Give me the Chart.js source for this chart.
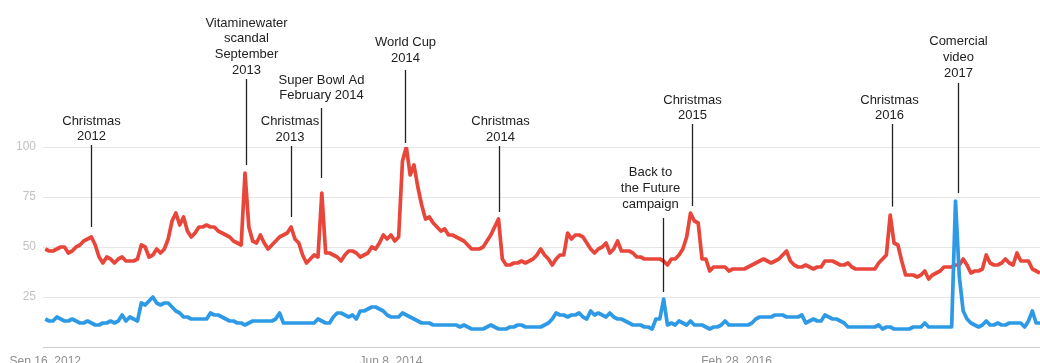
<!DOCTYPE html>
<html>
<head>
<meta charset="utf-8">
<script src="https://cdn.jsdelivr.net/npm/chart.js@4"></script>
<style>
  html, body { margin: 0; padding: 0; background: #fff; }
  #wrap { width: 1040px; height: 363px; position: relative; }
</style>
</head>
<body>
<div id="wrap"><canvas id="trendChart"></canvas></div>
<script>
// weekly search interest (week 0 = Sep 16, 2012)
const redSeries = [
  49,48,48,49,50,50,47,48,50,51,
  53,54,55,51,45,42,45,44,42,44,
  45,43,43,43,44,51,50,45,46,49,
  47,49,54,63,67,61,65,58,55,57,
  60,60,61,60,60,58,57,56,55,53,
  52,51,87,60,53,52,56,52,49,51,
  53,55,56,57,60,54,52,46,42,44,
  46,45,77,47,47,46,45,43,46,48,
  48,47,45,46,47,50,49,52,56,54,
  56,53,55,93,100,86,91,80,71,64,
  65,62,60,58,59,56,56,55,54,53,
  51,49,49,49,50,53,56,60,64,44,
  41,41,42,42,43,42,43,44,46,49,
  46,44,41,44,46,46,57,54,56,56,
  55,52,49,47,49,50,52,47,49,53,
  48,48,48,47,45,45,44,44,44,44,
  44,43,41,44,44,46,49,55,67,63,
  62,44,44,38,40,40,40,40,38,39,
  39,39,39,40,41,42,43,44,43,42,
  43,44,46,48,43,41,40,40,41,40,
  39,40,40,43,43,43,42,41,41,42,
  40,39,39,39,39,39,39,42,44,46,
  66,52,51,43,36,36,36,35,36,38,
  34,36,37,38,40,40,40,41,41,44,
  41,37,38,38,39,46,42,41,41,42,
  44,42,41,47,43,43,43,39,38,37
];
const blueSeries = [
  14,13,13,15,14,13,13,14,13,12,
  12,13,12,11,11,12,12,13,12,13,
  16,13,15,14,13,22,21,23,25,22,
  21,22,22,20,18,17,15,15,14,14,
  14,14,14,17,16,16,15,14,13,13,
  12,12,11,12,13,13,13,13,13,13,
  14,17,12,12,12,12,12,12,12,12,
  12,14,13,12,12,15,17,17,16,15,
  16,14,18,18,19,20,20,19,18,16,
  15,15,15,17,16,15,14,13,12,12,
  12,11,11,11,11,11,11,11,10,11,
  10,9,9,9,9,10,11,10,9,9,
  9,10,10,11,11,10,10,10,10,10,
  11,12,14,17,16,16,15,16,16,17,
  15,14,18,16,17,16,15,17,15,14,
  14,13,12,11,11,11,10,10,9,14,
  14,24,11,12,11,13,12,11,13,11,
  11,11,10,9,10,10,11,13,11,11,
  11,11,11,11,12,14,15,15,15,15,
  16,16,16,15,15,15,15,16,12,13,
  14,13,13,16,15,14,14,13,12,10,
  10,10,10,10,10,10,10,11,9,10,
  10,9,9,9,9,9,10,10,10,12,
  10,10,10,10,10,10,10,73,35,18,
  14,12,11,10,11,13,11,11,12,11,
  11,12,12,12,12,10,13,18,12,12
];

const tickWeeks = [0, 90, 180];
const tickLabels = ['Sep 16, 2012', 'Jun 8, 2014', 'Feb 28, 2016'];

// event notes: week of the leader line, text lines
const noteWeeks = [12, 52.2, 64.1, 71.9, 93.6, 118.1, 160.9, 168.3, 220.5, 237.7];
const noteTexts = [
  ['Christmas', '2012'],
  ['Vitaminewater', 'scandal', 'September', '2013'],
  ['Christmas', '2013'],
  ['Super Bowl Ad', 'February 2014'],
  ['World Cup', '2014'],
  ['Christmas', '2014'],
  ['Back to', 'the Future', 'campaign'],
  ['Christmas', '2015'],
  ['Christmas', '2016'],
  ['Comercial', 'video', '2017']
];
// text top / leader top / leader bottom, in value units of the y axis
const noteTextAt = [113, 162, 112.7, 133.5, 152.2, 112.7, 87.2, 123.5, 123.5, 152.7];
const noteLineTop = [101, 134, 100.5, 119.5, 138.5, 100.5, 64.5, 111.5, 111.5, 132];
const noteLineEnd = [60, 91, 65, 84.5, 102, 67.5, 27.5, 70.5, 70.2, 77];
const noteShift = [0, 0, -1.5, 0, 0, 1, -13, 0, -3, 0];

const notesPlugin = {
    id: 'notes',
    afterDraw(chart) {
        const ctx = chart.ctx;
        const xs = chart.scales.x, ys = chart.scales.y;
        ctx.save();
        ctx.font = '13px Arial, "Liberation Sans", sans-serif';
        ctx.textAlign = 'center';
        ctx.textBaseline = 'middle';
        noteWeeks.forEach((w, i) => {
            const x = Math.round(xs.getPixelForValue(w)) + 0.5;
            ctx.strokeStyle = '#222';
            ctx.lineWidth = 1.3;
            ctx.beginPath();
            ctx.moveTo(x, ys.getPixelForValue(noteLineTop[i]));
            ctx.lineTo(x, ys.getPixelForValue(noteLineEnd[i]));
            ctx.stroke();
            ctx.fillStyle = '#222';
            let y = ys.getPixelForValue(noteTextAt[i]);
            noteTexts[i].forEach(t => {
                ctx.fillText(t, x + noteShift[i], y);
                y += 15.8;
            });
        });
        ctx.restore();
    }
};

const ctx = document.getElementById('trendChart').getContext('2d');

const trendChart = new Chart(ctx, {
    type: 'line',
    data: {
        datasets: [{
            label: 'red',
            data: redSeries.map((v, i) => ({ x: i, y: v })),
            borderColor: '#e8463a',
            borderWidth: 3.7,
            pointRadius: 0,
            tension: 0,
            borderJoinStyle: 'round',
            order: 1
        }, {
            label: 'blue',
            data: blueSeries.map((v, i) => ({ x: i, y: v })),
            borderColor: '#2e9ae6',
            borderWidth: 3.7,
            pointRadius: 0,
            tension: 0,
            borderJoinStyle: 'round',
            order: 0
        }]
    },
    options: {
        responsive: true,
        maintainAspectRatio: false,
        animation: false,
        layout: { padding: { top: 147, left: 0, right: 0, bottom: 0 } },
        plugins: {
            legend: { display: false },
            tooltip: { enabled: false }
        },
        scales: {
            x: {
                type: 'linear',
                min: -0.6,
                max: 259,
                afterBuildTicks: axis => {
                    axis.ticks = tickWeeks.map(v => ({ value: v }));
                },
                afterFit: axis => { axis.height = 16; },
                grid: { display: false },
                border: { display: true, color: '#cccccc', width: 1 },
                ticks: {
                    autoSkip: false,
                    maxRotation: 0,
                    padding: -1,
                    color: '#8f8f8f',
                    font: { family: 'Arial, "Liberation Sans", sans-serif', size: 12 },
                    callback: v => tickLabels[tickWeeks.indexOf(v)]
                }
            },
            y: {
                min: 0,
                max: 100,
                afterFit: axis => { axis.width = 43; },
                border: { display: false },
                grid: { color: '#e6e6e6', drawTicks: false },
                ticks: {
                    stepSize: 25,
                    padding: 7,
                    color: '#c2c2c2',
                    font: { family: 'Arial, "Liberation Sans", sans-serif', size: 12 },
                    callback: v => (v === 0 ? '' : v)
                }
            }
        }
    },
    plugins: [notesPlugin]
});
</script>
</body>
</html>
